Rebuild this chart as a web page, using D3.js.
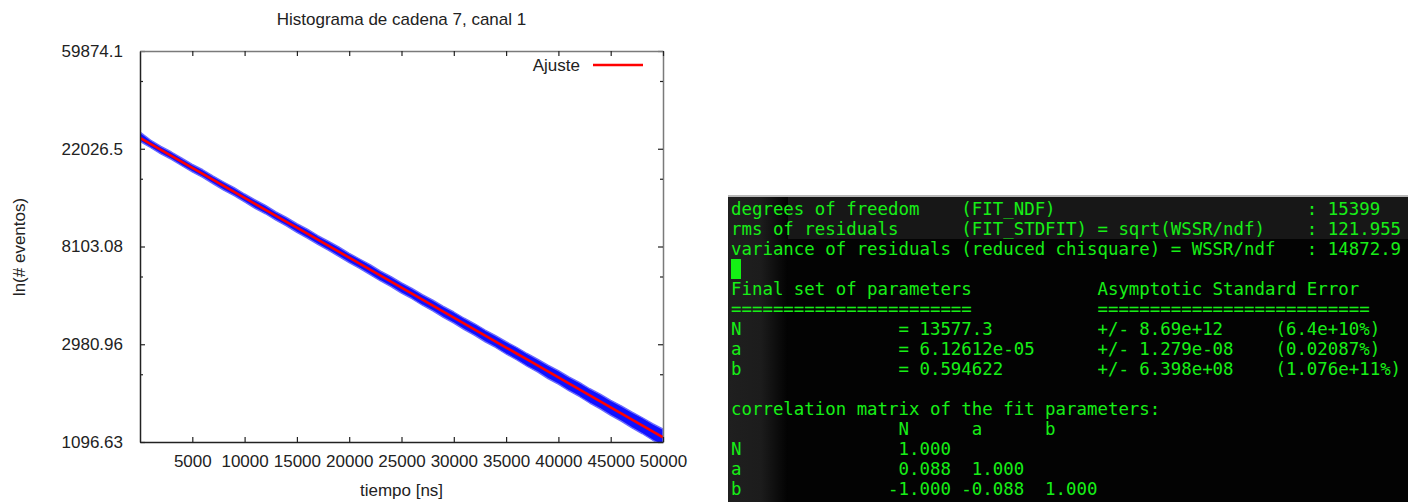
<!DOCTYPE html>
<html>
<head>
<meta charset="utf-8">
<script src="https://cdn.jsdelivr.net/npm/d3@7"></script>
<style>
  html, body { margin: 0; padding: 0; background: #fff; }
  svg { display: block; }
</style>
</head>
<body>
<svg id="chart" width="1408" height="502"></svg>
<script>
// ---- Histogram data (chain 7, channel 1): highest / lowest bin count per 1000 ns window ----
const windowStart = [0, 1000, 2000, 3000, 4000, 5000, 6000, 7000, 8000, 9000,
  10000, 11000, 12000, 13000, 14000, 15000, 16000, 17000, 18000, 19000,
  20000, 21000, 22000, 23000, 24000, 25000, 26000, 27000, 28000, 29000,
  30000, 31000, 32000, 33000, 34000, 35000, 36000, 37000, 38000, 39000,
  40000, 41000, 42000, 43000, 44000, 45000, 46000, 47000, 48000, 49000, 50000];
const binMax = [26127, 24088, 22553, 21311, 19992, 18784, 17771, 16650, 15676, 14801,
  13868, 13070, 12340, 11551, 10907, 10239, 9676, 9067, 8553, 8067,
  7559, 7130, 6725, 6302, 5956, 5591, 5279, 4952, 4679, 4393,
  4147, 3890, 3676, 3448, 3258, 3059, 2891, 2712, 2562, 2406,
  2274, 2133, 2017, 1891, 1789, 1679, 1588, 1491, 1409, 1323, 1251];
const binMin = [23760, 22311, 20898, 19759, 18507, 17371, 16425, 15384, 14425, 13638,
  12788, 11979, 11325, 10608, 9999, 9356, 8836, 8285, 7801, 7322,
  6866, 6484, 6073, 5694, 5379, 5033, 4749, 4443, 4192, 3922,
  3701, 3463, 3267, 3057, 2884, 2698, 2544, 2380, 2245, 2099,
  1981, 1853, 1747, 1634, 1540, 1441, 1358, 1270, 1196, 1119, 1053];

// ---- Fit result, model f(t) = N * exp(b - a*t) ----
const fitNames = ["N", "a", "b"];
const fitValues = [13577.3, 6.12612e-05, 0.594622];
const fitValueText = ["13577.3", "6.12612e-05", "0.594622"];
const fitErrors = ["8.69e+12", "1.279e-08", "6.398e+08"];
const fitErrorPct = ["6.4e+10%", "0.02087%", "1.076e+11%"];
const fitStatLabels = [
  "degrees of freedom    (FIT_NDF)",
  "rms of residuals      (FIT_STDFIT) = sqrt(WSSR/ndf)",
  "variance of residuals (reduced chisquare) = WSSR/ndf"
];
const fitStatValues = ["15399", "121.955", "14872.9"];
const correlation = [[1.000], [0.088, 1.000], [-1.000, -0.088, 1.000]];

// ---- Axes ----
const xTicks = [5000, 10000, 15000, 20000, 25000, 30000, 35000, 40000, 45000, 50000];
const yTickPowers = [7, 8, 9, 10, 11];
const yTickLabels = ["1096.63", "2980.96", "8103.08", "22026.5", "59874.1"];
const yMinorPowers = [7, 8, 9, 10];

const svg = d3.select("#chart");
const plot = { left: 140, right: 663, top: 51, bottom: 442 };
const font = "'Liberation Sans', Arial, sans-serif";
const ink = "#222";

const x = d3.scaleLinear().domain([0, 50000]).range([plot.left, plot.right]);
const y = d3.scaleLog().base(Math.E)
  .domain([Math.exp(7), Math.exp(11)])
  .range([plot.bottom, plot.top]);

svg.append("rect").attr("width", 1408).attr("height", 502).attr("fill", "#fff");

svg.append("defs").append("clipPath").attr("id", "plotclip")
  .append("rect")
  .attr("x", plot.left).attr("y", plot.top)
  .attr("width", plot.right - plot.left).attr("height", plot.bottom - plot.top);

// Data band
const band = d3.area()
  .x((d, i) => x(windowStart[i]))
  .y0((d, i) => y(binMin[i]))
  .y1((d, i) => y(binMax[i]));
const g = svg.append("g").attr("clip-path", "url(#plotclip)");
g.append("path")
  .attr("d", band(windowStart))
  .attr("fill", "#1010ff")
  .attr("stroke", "#6b6bff")
  .attr("stroke-width", 1.4)
  .attr("stroke-linejoin", "round");

// Fit curve
const [N, a, b] = fitValues;
const fitLine = d3.line()
  .x(t => x(t))
  .y(t => y(N * Math.exp(b - a * t)));
g.append("path")
  .attr("d", fitLine(windowStart))
  .attr("fill", "none")
  .attr("stroke", "#ff0000")
  .attr("stroke-width", 2.6);

// Axes with inward ticks on all four sides
const styleAxis = (sel, domainColor) => {
  sel.selectAll(".domain").attr("stroke", domainColor).attr("stroke-width", 1.5);
  sel.selectAll(".tick line").attr("stroke", ink).attr("stroke-width", 1.2);
  sel.selectAll(".tick text").attr("fill", ink).style("font-family", font).style("font-size", "17px");
};

const yAxisL = svg.append("g").attr("transform", `translate(${plot.left},0)`)
  .call(d3.axisLeft(y).tickValues(yTickPowers.map(p => Math.exp(p)))
    .tickFormat((d, i) => yTickLabels[i]).tickSize(-5).tickSizeOuter(0).tickPadding(17));
styleAxis(yAxisL, "#222");

const yAxisR = svg.append("g").attr("transform", `translate(${plot.right},0)`)
  .call(d3.axisRight(y).tickValues(yTickPowers.map(p => Math.exp(p)))
    .tickFormat("").tickSize(-5).tickSizeOuter(0));
styleAxis(yAxisR, "#7a7a7a");

[[plot.left, d3.axisLeft], [plot.right, d3.axisRight]].forEach(([px, ax]) => {
  svg.append("g").attr("transform", `translate(${px},0)`)
    .call(ax(y).tickValues(yMinorPowers.map(p => 2 * Math.exp(p))).tickFormat("").tickSize(-3).tickSizeOuter(0))
    .call(s => { s.select(".domain").remove(); s.selectAll(".tick line").attr("stroke", ink).attr("stroke-width", 1.2); });
});

const xAxisB = svg.append("g").attr("transform", `translate(0,${plot.bottom})`)
  .call(d3.axisBottom(x).tickValues(xTicks).tickFormat(d3.format("d"))
    .tickSize(-5).tickSizeOuter(0).tickPadding(12.5));
styleAxis(xAxisB, "#222");

const xAxisT = svg.append("g").attr("transform", `translate(0,${plot.top})`)
  .call(d3.axisTop(x).tickValues(xTicks).tickFormat("").tickSize(-5).tickSizeOuter(0));
styleAxis(xAxisT, "#7a7a7a");

// Titles
svg.append("text").attr("x", (plot.left + plot.right) / 2).attr("y", 25)
  .attr("text-anchor", "middle").attr("fill", ink)
  .style("font-family", font).style("font-size", "17px")
  .text("Histograma de cadena 7, canal 1");

svg.append("text").attr("x", (plot.left + plot.right) / 2).attr("y", 496)
  .attr("text-anchor", "middle").attr("fill", ink)
  .style("font-family", font).style("font-size", "17px")
  .text("tiempo [ns]");

svg.append("text").attr("transform", "translate(25,247) rotate(-90)")
  .attr("text-anchor", "middle").attr("fill", ink)
  .style("font-family", font).style("font-size", "17px")
  .text("ln(# eventos)");

// Legend
svg.append("text").attr("x", 580).attr("y", 71)
  .attr("text-anchor", "end").attr("fill", ink)
  .style("font-family", font).style("font-size", "17px")
  .text("Ajuste");
svg.append("line").attr("x1", 593).attr("x2", 643).attr("y1", 65).attr("y2", 65)
  .attr("stroke", "#ff0000").attr("stroke-width", 2.6);

// ---- Terminal panel with the fit report ----
const term = { left: 728, top: 197, right: 1408, bottom: 502 };
const defs = svg.select("defs");
const lg = defs.append("linearGradient").attr("id", "termshade").attr("x1", 0).attr("x2", 1);
lg.append("stop").attr("offset", 0).attr("stop-color", "#1f1f1f");
lg.append("stop").attr("offset", 0.55).attr("stop-color", "#1c1c1c");
lg.append("stop").attr("offset", 1).attr("stop-color", "#020202");

svg.append("rect").attr("x", term.left).attr("y", term.top - 2)
  .attr("width", term.right - term.left).attr("height", 2).attr("fill", "#b8b8b8");
svg.append("rect").attr("x", term.left).attr("y", term.top)
  .attr("width", term.right - term.left).attr("height", term.bottom - term.top).attr("fill", "#030303");
svg.append("rect").attr("x", term.left).attr("y", term.top)
  .attr("width", term.right - term.left).attr("height", 42).attr("fill", "#171717");
svg.append("rect").attr("x", term.left).attr("y", term.top)
  .attr("width", 60).attr("height", term.bottom - term.top).attr("fill", "url(#termshade)");

const lines = [];
fitStatLabels.forEach((lab, i) => lines.push(lab.padEnd(55) + ": " + fitStatValues[i]));
lines.push(null); // cursor row
lines.push("Final set of parameters".padEnd(35) + "Asymptotic Standard Error");
lines.push("=".repeat(23).padEnd(35) + "=".repeat(26));
fitNames.forEach((n, i) => lines.push(
  n.padEnd(15) + " = " + fitValueText[i].padEnd(15) + "  +/- " + fitErrors[i].padEnd(12) + " (" + fitErrorPct[i] + ")"));
lines.push("");
lines.push("correlation matrix of the fit parameters:");
lines.push("".padEnd(15) + fitNames.map(n => (" " + n).padEnd(6)).join(" "));
correlation.forEach((row, i) => lines.push(
  fitNames[i].padEnd(15) + row.map(v => v.toFixed(3).padStart(6)).join(" ")));

const green = "#17ee17";
const textX = 731, firstBase = 214.5, lineStep = 20;
svg.append("g").selectAll("text")
  .data(lines.map((l, i) => ({ l, i })).filter(d => d.l))
  .join("text")
  .attr("x", textX)
  .attr("y", d => firstBase + d.i * lineStep)
  .attr("fill", green)
  .style("white-space", "pre")
  .style("font-family", "'DejaVu Sans Mono', monospace")
  .style("font-size", "17.4px")
  .text(d => d.l);

// blinking-block cursor
svg.append("rect").attr("x", 731).attr("y", firstBase + 3 * lineStep - 15.5)
  .attr("width", 10).attr("height", 20).attr("fill", "#14f014");
</script>
</body>
</html>
